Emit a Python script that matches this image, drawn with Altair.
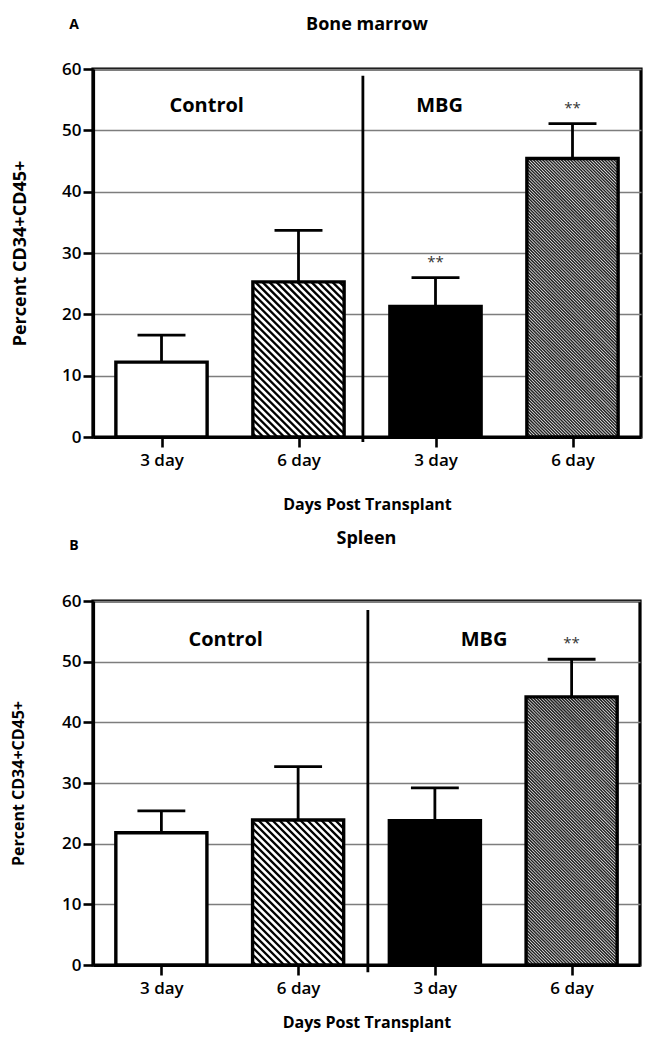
import altair as alt
import pandas as pd

# ---------------- data ----------------
days = ["3 day", "6 day", "3 day", "6 day"]
groups = ["Control", "Control", "MBG", "MBG"]

bm_mean = [12.2, 25.3, 21.3, 45.4]
bm_top = [16.6, 33.7, 26.0, 51.1]     # mean + error
bm_sig = ["", "", "**", "**"]

sp_mean = [21.8, 23.9, 23.8, 44.2]
sp_top = [25.4, 32.7, 29.2, 50.4]
sp_sig = ["", "", "", "**"]

group_labels = ["Control", "MBG"]

# ---------------- style ----------------
FONT = "Open Sans"
BAR_HALF = 0.333          # half bar width in band units
CAP_HALF = 0.175
YMAX = 60
FILL_KIND = ["white", "hatch", "solid", "fine"]   # per bar position (style)


def hatch_segments(means, W, H, kinds):
    ppx = W / 4.0
    ppy = H / YMAX
    rows = []
    for i, (m, kind) in enumerate(zip(means, kinds)):
        if kind not in ("hatch", "fine"):
            continue
        sp = 7.0 if kind == "hatch" else 3.1
        x0 = (i + 0.5 - BAR_HALF) * ppx
        x1 = (i + 0.5 + BAR_HALF) * ppx
        yt = (YMAX - m) * ppy
        yb = YMAX * ppy
        c = x0 - yb + sp / 2
        while c < x1 - yt:
            xa = max(x0, yt + c)
            xb = min(x1, yb + c)
            if xb > xa:
                ya = xa - c
                yb2 = xb - c
                rows.append(dict(x=xa / ppx, x2=xb / ppx,
                                 y=YMAX - ya / ppy, y2=YMAX - yb2 / ppy,
                                 kind=kind))
            c += sp
    return pd.DataFrame(rows)


def panel(means, tops, sig, title, letter, W, H, title_y, letter_y,
          ytitle_size, ytitle_pad, xtitle_pad, group_pos, divider):
    df = pd.DataFrame({
        "day": days,
        "group": groups,
        "mean": means,
        "top": tops,
        "sig": sig,
        "kind": FILL_KIND,
    })
    df["pos"] = [i + 0.5 for i in range(len(df))]
    df["x0"] = df["pos"] - BAR_HALF
    df["x1"] = df["pos"] + BAR_HALF
    df["c0"] = df["pos"] - CAP_HALF
    df["c1"] = df["pos"] + CAP_HALF
    df["zero"] = 0.0

    label_expr = "[" + ",".join("'%s'" % d for d in days) + "][floor(datum.value)]"
    xscale = alt.Scale(domain=[0, 4], nice=False, zero=False)
    yscale = alt.Scale(domain=[0, YMAX], nice=False)

    xenc = alt.X("x0:Q", scale=xscale,
                 axis=alt.Axis(values=list(df["pos"]), labelExpr=label_expr,
                               title="Days Post Transplant", grid=False,
                               labelPadding=5, titlePadding=xtitle_pad,
                               titleFontSize=16, labelFontSize=17))
    yenc = alt.Y("mean:Q", scale=yscale,
                 axis=alt.Axis(values=list(range(0, 61, 10)), grid=True,
                               gridColor="#7d7d7d", gridWidth=1.3,
                               title="Percent CD34+CD45+",
                               titleFontSize=ytitle_size,
                               titlePadding=ytitle_pad,
                               labelPadding=2, labelFontSize=17))

    base = alt.Chart(df)

    fill_scale = alt.Scale(domain=["white", "hatch", "solid", "fine"],
                           range=["white", "white", "black", "white"])
    bars_fill = base.mark_bar(strokeWidth=0).encode(
        x=xenc, x2="x1:Q", y=yenc, y2="zero:Q",
        fill=alt.Fill("kind:N", scale=fill_scale, legend=None))

    hdf = hatch_segments(means, W, H, FILL_KIND)
    hatch = alt.Chart(hdf).mark_rule(strokeCap="butt").encode(
        x="x:Q", x2="x2:Q", y="y:Q", y2="y2:Q",
        strokeWidth=alt.StrokeWidth("kind:N", scale=alt.Scale(
            domain=["hatch", "fine"], range=[2.4, 1.5]), legend=None),
        color=alt.Color("kind:N", scale=alt.Scale(
            domain=["hatch", "fine"], range=["black", "#222222"]), legend=None))

    bars_outline = base.mark_bar(fill=None, fillOpacity=0, stroke="black",
                                 strokeWidth=3.4).encode(
        x="x0:Q", x2="x1:Q", y="mean:Q", y2="zero:Q")

    err_v = base.mark_rule(color="black", strokeWidth=2.8).encode(
        x="pos:Q", y="mean:Q", y2="top:Q")
    err_cap = base.mark_rule(color="black", strokeWidth=2.8).encode(
        x="c0:Q", x2="c1:Q", y="top:Q")

    stars = base.mark_text(font=FONT, fontSize=15, fontWeight="normal",
                           baseline="bottom", dy=-8, color="#333333").encode(
        x="pos:Q", y="top:Q", text="sig:N")

    div_df = pd.DataFrame({"x": [divider[0]], "y": [divider[1]], "y2": [divider[2]]})
    div = alt.Chart(div_df).mark_rule(color="black", strokeWidth=2.8).encode(
        x="x:Q", y="y:Q", y2="y2:Q")

    gdf = pd.DataFrame({"text": group_labels,
                        "x": [group_pos[0], group_pos[1]],
                        "y": [group_pos[2], group_pos[2]]})
    glab = alt.Chart(gdf).mark_text(font=FONT, fontSize=20, fontWeight="bold",
                                    color="black").encode(
        x="x:Q", y="y:Q", text="text:N")

    letter_df = pd.DataFrame({"t": [letter]})
    let = alt.Chart(letter_df).mark_text(font=FONT, fontSize=14, fontWeight="bold",
                                         color="black").encode(
        x=alt.value(-19), y=alt.value(letter_y), text="t:N")

    title_df = pd.DataFrame({"t": [title]})
    ttl = alt.Chart(title_df).mark_text(font=FONT, fontSize=18, fontWeight="bold",
                                        color="black").encode(
        x=alt.value(W / 2), y=alt.value(title_y), text="t:N")

    layer = alt.layer(bars_fill, hatch, bars_outline, err_v, err_cap, stars,
                      div, glab, let, ttl).properties(width=W, height=H)
    return layer


top = panel(bm_mean, bm_top, bm_sig, "Bone marrow", "A", 548, 368, -44, -44,
            18, 32, 28, (0.83, 2.53, 54.0), (1.97, 58.9, -0.8))
bottom = panel(sp_mean, sp_top, sp_sig, "Spleen", "B", 547, 364, -62, -55,
               16, 35, 18, (0.97, 2.86, 53.5), (2.01, 58.5, -1.2))

chart = alt.vconcat(top, bottom, spacing=14).configure_view(
    stroke="black", strokeWidth=3.2
).configure_axis(
    domainColor="black", domainWidth=3.2, tickColor="black", tickWidth=2.6,
    tickSize=10, labelFont=FONT, labelFontWeight=600, labelColor="black",
    titleFont=FONT, titleFontWeight="bold", titleColor="black"
).properties(background="white",
             padding={"left": 0, "top": 6, "right": 0, "bottom": 0})

chart.save("out.html", embed_options={"renderer": "svg", "actions": False})
